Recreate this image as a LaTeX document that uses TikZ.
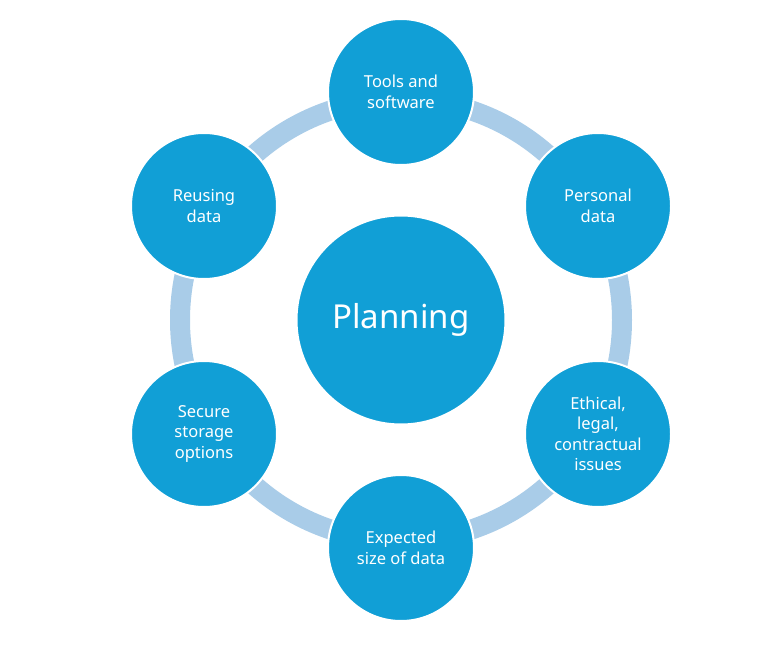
\documentclass[tikz,border=0pt]{standalone}
\usepackage{fontspec}
\setmainfont{Noto Sans}
\definecolor{hubblue}{RGB}{17,159,214}
\definecolor{ringblue}{RGB}{169,204,232}
\tikzset{
  topic/.style={circle, fill=hubblue, draw=white, line width=2pt,
    minimum size=146pt, inner sep=0pt, align=center, text=white,
    font=\fontsize{16.5}{20.5}\selectfont},
  hub/.style={topic, minimum size=209pt, font=\fontsize{33}{40}\selectfont},
  ring/.style={draw=ringblue, line width=20pt}
}
\begin{document}
\begin{tikzpicture}[x=1pt,y=-1pt]
            \useasboundingbox (0,0) rectangle (779,658);
            \coordinate (o) at (401,320);
            \draw[ring] (o) circle (221);
            \node (plan) [hub] at (o) {Planning};
            \node (tools) [topic] at (401,92) {Tools and\\software};
            \node (pers) [topic] at (598,206) {Personal\\data};
            \node (ethic) [topic] at (598,434) {Ethical,\\legal,\\contractual\\issues};
            \node (size) [topic] at (401,548) {Expected\\size of data};
            \node (store) [topic] at (204,434) {Secure\\storage\\options};
            \node (reuse) [topic] at (204,206) {Reusing\\data};
        \end{tikzpicture}
\end{document}
